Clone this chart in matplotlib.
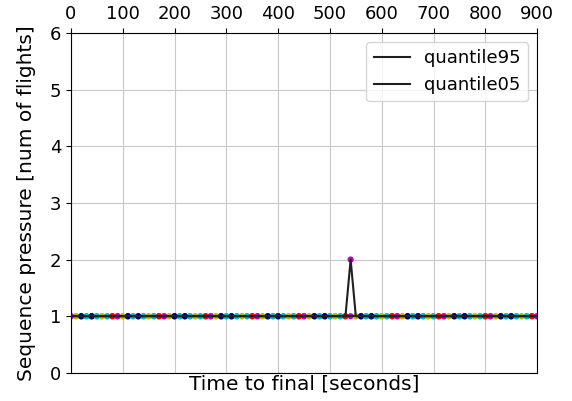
import matplotlib
matplotlib.use('Agg')
import matplotlib.pyplot as plt
import numpy as np

# time to final, one sample every 10 s
times = list(range(0, 910, 10))
# 95% quantile: flat at 1, one spike to 2 at 540 s
q95 = [1] * 54 + [2] + [1] * 36
q05 = [1] * 91
dot_colors = ['m', 'y', 'navy', 'c', 'navy', 'c', 'y', 'c', 'r']

fig, ax = plt.subplots(figsize=(5.72, 4.01), dpi=100)
fig.subplots_adjust(left=0.124, right=0.939, top=0.918, bottom=0.07)

cols = [dot_colors[i % len(dot_colors)] for i in range(len(times))]
ax.scatter(times, q05, c=cols, s=12, zorder=2)
ax.scatter(times, q95, c=cols, s=12, zorder=2)
ax.plot(times, q95, color='#202020', lw=1.5, label='quantile95', zorder=3)
ax.plot(times, q05, color='#202020', lw=1.5, label='quantile05', zorder=3)

ax.set_xlim(0, 900)
ax.set_ylim(0, 6)
ax.set_xticks(np.arange(0, 901, 100))
ax.set_yticks(range(0, 7))
ax.xaxis.tick_top()
ax.tick_params(labelsize=13)
ax.set_xlabel('Time to final [seconds]', fontsize=14.5, labelpad=1)
ax.set_ylabel('Sequence pressure [num of flights]', fontsize=14.5, labelpad=10)
ax.grid(True, color='#c8c8c8')
ax.legend(loc='upper right', fontsize=13)

plt.savefig('out.png')
